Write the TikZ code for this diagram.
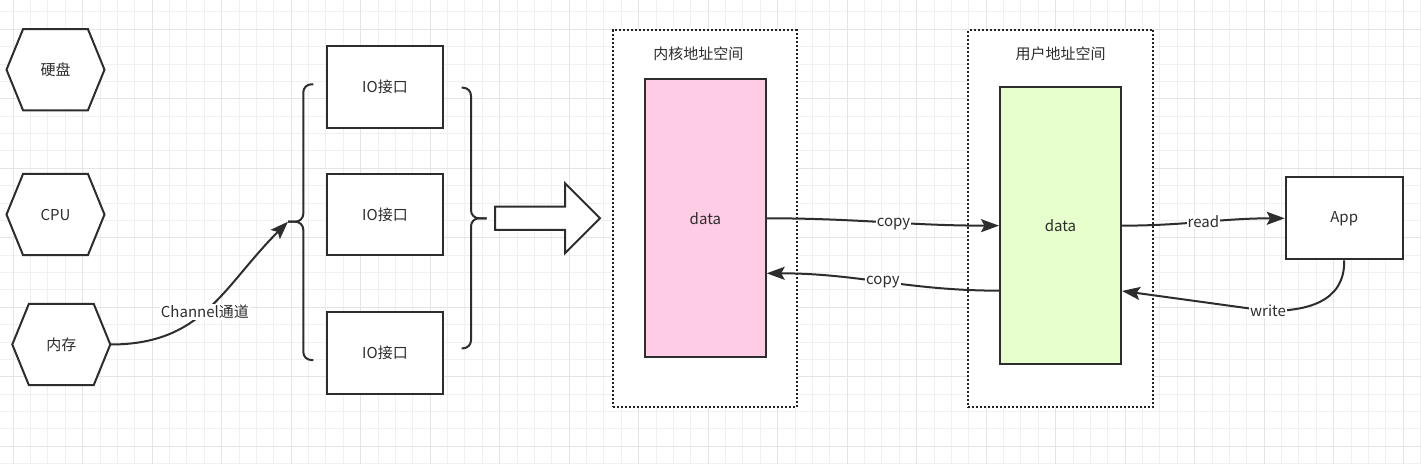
\documentclass[tikz,border=0pt]{standalone}
\usepackage{fontspec}
\setmainfont{Noto Sans CJK SC}
\usetikzlibrary{arrows.meta}
\definecolor{ink}{RGB}{45,45,45}
\definecolor{minorgrid}{RGB}{240,240,240}
\definecolor{majorgrid}{RGB}{228,228,228}
\definecolor{kpink}{RGB}{255,204,230}
\definecolor{ugreen}{RGB}{230,255,204}
\newcommand\hexoutline[1]{%
  \draw[shapeline] (#1.west) -- ([xshift=16.6pt]#1.north west) -- ([xshift=-16.6pt]#1.north east)
    -- (#1.east) -- ([xshift=-16.6pt]#1.south east) -- ([xshift=16.6pt]#1.south west) -- cycle;}
\tikzset{
  txt/.style={font=\fontsize{15}{18}\selectfont, text=ink},
  shapeline/.style={draw=ink, line width=2pt, line join=miter},
  hexbox/.style={rectangle, inner sep=0pt, minimum width=97.6pt, minimum height=81pt, txt},
  boxnode/.style={rectangle, draw=ink, line width=2pt, inner sep=0pt, txt},
  iobox/.style={boxnode, minimum width=116.6pt, minimum height=81.5pt},
  container/.style={rectangle, draw={rgb,255:red,34;green,34;blue,34}, line width=2.2pt,
    dash pattern=on 2pt off 2pt, inner sep=0pt},
  edge/.style={draw=ink, line width=2pt, -{Stealth[length=18pt,width=13pt,inset=3.5pt]}},
  lbl/.style={fill=white, inner sep=1pt, txt},
}
\begin{document}
\begin{tikzpicture}[x=1pt,y=-1pt]
\useasboundingbox (0,0) rectangle (1421,464);
\fill[white] (0,0) rectangle (1421,464);
% background grid
\foreach \i in {0,...,81} \draw[minorgrid, line width=1pt] ({13.2+17.375*\i},0) -- ({13.2+17.375*\i},464);
\foreach \j in {0,...,26} \draw[minorgrid, line width=1pt] (0,{11.9+17.375*\j}) -- (1421,{11.9+17.375*\j});
\foreach \i in {0,...,20} \draw[majorgrid, line width=1pt] ({13.2+69.5*\i},0) -- ({13.2+69.5*\i},464);
\foreach \j in {0,...,6} \draw[majorgrid, line width=1pt] (0,{29.3+69.5*\j}) -- (1421,{29.3+69.5*\j});

% hexagons
\node[hexbox] (disk) at (55.5,69.7) {};
\node[hexbox] (cpu) at (55.5,214.5) {};
\node[hexbox] (mem) at (61.3,344.5) {};
\fill[white] (disk.west) -- ([xshift=16.6pt]disk.north west) -- ([xshift=-16.6pt]disk.north east) -- (disk.east) -- ([xshift=-16.6pt]disk.south east) -- ([xshift=16.6pt]disk.south west) -- cycle;
\fill[white] (cpu.west) -- ([xshift=16.6pt]cpu.north west) -- ([xshift=-16.6pt]cpu.north east) -- (cpu.east) -- ([xshift=-16.6pt]cpu.south east) -- ([xshift=16.6pt]cpu.south west) -- cycle;
\fill[white] (mem.west) -- ([xshift=16.6pt]mem.north west) -- ([xshift=-16.6pt]mem.north east) -- (mem.east) -- ([xshift=-16.6pt]mem.south east) -- ([xshift=16.6pt]mem.south west) -- cycle;
\hexoutline{disk}\hexoutline{cpu}\hexoutline{mem}
\node[txt] (disktxt) at (disk) {硬盘};
\node[txt] (cputxt) at (cpu) {CPU};
\node[txt] (memtxt) at (mem) {内存};

% IO boxes
\node[iobox, fill=white] (io1) at (385,87.2) {IO接口};
\node[iobox, fill=white] (io2) at (385,214.7) {IO接口};
\node[iobox, fill=white] (io3) at (385,352.8) {IO接口};

% braces
\coordinate (lbtip) at (288,221.7);
\coordinate (rbtip) at (486.7,218.3);
\draw[shapeline, rounded corners=8pt] (313.3,84.3) -- (303.3,84.3) -- (303.3,221.7) -- (lbtip);
\draw[shapeline, rounded corners=8pt] (lbtip) -- (303.3,221.7) -- (303.3,360) -- (313.3,360);
\draw[shapeline, rounded corners=8pt] (461.7,87.7) -- (471,87.7) -- (471,218.3) -- (rbtip);
\draw[shapeline, rounded corners=8pt] (rbtip) -- (471,218.3) -- (471,348.3) -- (461.7,348.3);

% channel edge
\draw[edge] (mem.east) to[out=0,in=225,looseness=1.1] node[lbl, pos=0.47] {Channel通道} (lbtip);

% big hollow arrow
\draw[shapeline, fill=white] (495,206.7) -- (565,206.7) -- (565,183.3) -- (600,218.3)
  -- (565,253.3) -- (565,229.9) -- (495,229.9) -- cycle;

% address space containers
\node[container, fill=white, minimum width=183.4pt, minimum height=377.3pt] (kspace) at (705,218.65) {};
\node[container, fill=white, minimum width=185pt, minimum height=377.3pt] (uspace) at (1060.8,218.65) {};
\node[txt] (ktitle) at (698.3,53.3) {内核地址空间};
\node[txt] (utitle) at (1060.5,53.3) {用户地址空间};

% data boxes
\node[boxnode, fill=kpink, minimum width=120.7pt, minimum height=278pt] (kd) at (705.35,218.3) {data};
\node[boxnode, fill=ugreen, minimum width=121pt, minimum height=276.7pt] (ud) at (1060.5,225.65) {data};

% app
\node[boxnode, fill=white, minimum width=117pt, minimum height=82pt] (app) at (1344.2,218.3) {App};

% edges
\draw[edge] (kd.east) to[out=0,in=180] node[lbl, pos=0.55, yshift=-1.5pt] {copy} (ud.west);
\draw[edge] ([yshift=-65pt]ud.west) to[out=180,in=0] node[lbl, pos=0.5] {copy} ([yshift=-55pt]kd.east);
\draw[edge] (ud.east) to[out=0,in=180] node[lbl, pos=0.5] {read} (app.west);
\draw[edge] (app.south) .. controls (1345,303) and (1305,311) .. (1268,311) node[lbl] {write} -- ([yshift=-65.3pt]ud.east);
\end{tikzpicture}
\end{document}
